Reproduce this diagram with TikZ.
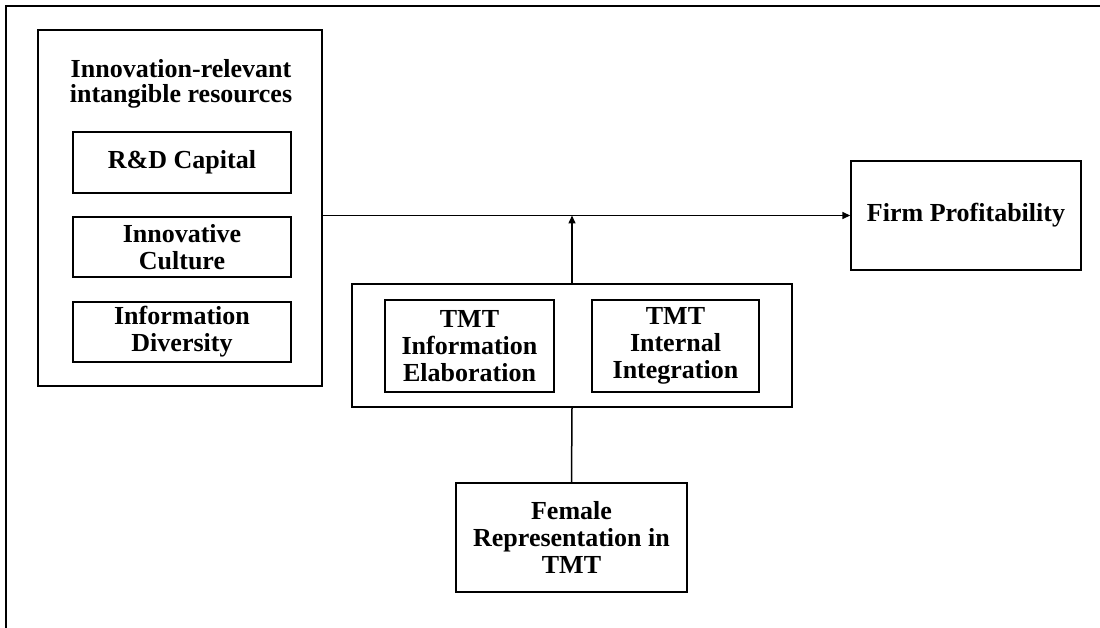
\documentclass[tikz,border=0pt]{standalone}
\usepackage{fontspec}
\setmainfont{Liberation Serif}
\usetikzlibrary{arrows.meta}
\begin{document}
\begin{tikzpicture}[x=1pt,y=-1pt,
  box/.style={draw=black,line width=1.4pt,rectangle,inner sep=0pt,align=center,
    font=\fontsize{26}{27}\selectfont\bfseries},
  caption/.style={inner sep=0pt,align=center,
    font=\fontsize{26}{25}\selectfont\bfseries},
  link/.style={line width=1.5pt},
  flow/.style={line width=1.5pt,-{Triangle[length=8pt,width=7pt]}}]
\useasboundingbox (0,0) rectangle (1100,628);
\fill[white] (0,0) rectangle (1100,628);
% outer frame (runs past the right and bottom edges)
\draw[line width=1.8pt] (6,640) -- (6,6) -- (1110,6);

% resources group
\node[box,minimum width=284pt,minimum height=356pt] (res) at (180,208) {};
\node[caption] (restitle) at (181,84) {Innovation-relevant\\intangible resources};
\node[box,minimum width=218pt,minimum height=61pt] (rd) at (182,162.5) {R\&D Capital};
\node[box,minimum width=218pt,minimum height=60pt] (cult) at (182,247) {Innovative\\Culture};
\node[box,minimum width=218pt,minimum height=60pt] (div) at (182,332) {Information\\Diversity};

% outcome
\node[box,minimum width=230pt,minimum height=109pt] (firm) at (966,215.5) {Firm Profitability};

% TMT processes
\node[box,minimum width=440pt,minimum height=123pt] (tmt) at (572,345.5) {};
\node[box,minimum width=169pt,minimum height=92pt] (elab) at (469.5,346) {TMT\\Information\\Elaboration};
\node[box,minimum width=167pt,minimum height=92pt] (integ) at (675.5,346) {TMT\\Internal\\Integration};

% antecedent
\node[box,minimum width=231pt,minimum height=109pt] (fem) at (571.5,537.5) {Female\\Representation in\\TMT};

% connectors
\draw[flow] (res.east |- firm.west) -- (firm.west);
\draw[flow] (tmt.north) -- (tmt.north |- firm.west);
\draw[link] (fem.north) -- (tmt.south);
\end{tikzpicture}
\end{document}
